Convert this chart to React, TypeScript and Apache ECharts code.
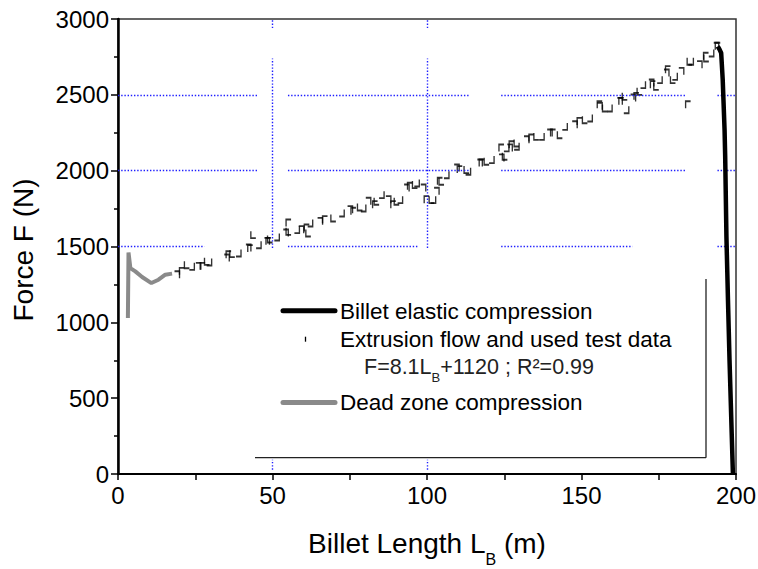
import { useEffect, useRef } from "react";
import * as echarts from "echarts";

// ---- data ----
const deadZoneL = [3.2, 3.4, 4.0, 5.6, 7.8, 10.8, 13.1, 15.3, 17.5];
const deadZoneF = [1029, 1461, 1358, 1336, 1299, 1259, 1281, 1314, 1321];

const elasticL = [194.1, 194.7, 195.2, 195.7, 196.3, 196.5, 196.9, 197.4, 197.9, 199.0];
const elasticF = [2820, 2798, 2776, 2600, 2270, 2094, 1567, 1150, 754, 0];

const flowL = [
  19.1, 20.7, 22.3, 23.9, 25.0, 26.0, 27.4, 28.8, 29.5, 32.5, 35.2, 35.8, 37.0, 39.0, 40.1,
  42.2, 42.8, 43.8, 45.5, 45.9, 48.2, 48.7, 49.2, 51.4, 51.9, 54.3, 55.2, 55.2, 57.9, 58.9,
  59.3, 61.1, 61.6, 62.2, 63.8, 65.4, 67.0, 69.7, 72.4, 72.9, 75.1, 76.2, 78.3, 79.4, 80.5,
  81.0, 83.2, 83.7, 85.3, 87.0, 87.5, 89.1, 90.2, 91.3, 92.9, 93.4, 94.5, 96.1, 96.7, 98.3,
  98.8, 99.9, 101.5, 102.0, 102.6, 103.1, 104.2, 104.7, 106.3, 109.0, 109.6, 110.6, 112.8,
  113.3, 115.0, 117.1, 117.7, 119.3, 120.9, 122.5, 124.1, 124.1, 125.2, 125.7, 126.8, 126.8,
  127.4, 129.0, 129.0, 130.0, 132.2, 133.8, 135.4, 137.1, 138.7, 139.7, 140.8, 143.0, 144.6,
  146.2, 147.8, 149.4, 151.1, 152.7, 154.3, 155.9, 155.9, 157.6, 159.1, 160.8, 162.4, 162.9,
  164.0, 164.5, 165.1, 166.7, 167.8, 168.8, 169.9, 171.0, 172.6, 173.1, 174.2, 175.3, 176.4,
  177.5, 178.0, 179.6, 180.2, 182.3, 182.3, 184.5, 185.0, 185.4, 188.2, 188.2, 190.3, 190.4,
  192.0, 192.5, 193.6, 194.1,
];
const flowF = [
  1314, 1336, 1380, 1369, 1358, 1369, 1369, 1402, 1398, 1424, 1424, 1446, 1453, 1457, 1464,
  1490, 1486, 1578, 1512, 1518, 1534, 1534, 1549, 1563, 1567, 1589, 1655, 1600, 1611, 1633,
  1611, 1622, 1589, 1655, 1633, 1666, 1677, 1688, 1721, 1710, 1743, 1732, 1760, 1754, 1798,
  1798, 1776, 1798, 1842, 1820, 1809, 1776, 1798, 1809, 1864, 1886, 1897, 1908, 1919, 1875,
  1886, 1809, 1809, 1809, 1886, 1864, 1930, 1930, 1973, 2029, 2018, 2007, 2007,
  1996, 1985, 2051, 2051, 2062, 2073, 2073, 2084, 2149, 2095, 2150, 2117, 2150,
  2171, 2182, 2161, 2193, 2204, 2215, 2226, 2226, 2259, 2248, 2248, 2237, 2292,
  2292, 2303, 2325, 2336, 2347, 2402, 2424, 2435, 2413, 2413, 2446, 2457, 2457,
  2490, 2402, 2402, 2479, 2490, 2523, 2567, 2556, 2578, 2567, 2556, 2600, 2600,
  2644, 2666, 2600, 2622, 2633, 2655, 2435, 2721, 2721, 2688, 2699, 2754, 2743,
  2776, 2798, 2820, 2820,
];

// dotted reference grid, broken as in the picture: [value, from, to]
const hGridSegments = [
  [1500, 0, 28], [1500, 55, 97], [1500, 124, 166.5], [1500, 194, 200],
  [2000, 0, 45], [2000, 55, 114], [2000, 124, 184], [2000, 194, 200],
  [2500, 0, 45], [2500, 55, 114], [2500, 124, 184], [2500, 194, 200],
];
const vGridSegments = [
  [50, 2940, 3000], [50, 1490, 2740], [50, 28, 94],
  [100, 2940, 3000], [100, 1490, 2740], [100, 28, 94],
];

const xTicks = { min: 0, max: 200, interval: 50 };
const yTicks = { min: 0, max: 3000, interval: 500 };

const FONT = 'Arial, "Liberation Sans", sans-serif';
const markShapes = [
  "path://M0,0L6,0L6,8",
  "path://M0,8L0,0L6,0",
  "path://M0,0L0,8L6,8",
  "path://M6,0L6,8L0,8",
  "path://M0,0L0,8",
];

export default function App() {
  const ref = useRef<HTMLDivElement>(null);

  useEffect(() => {
    if (!ref.current) return;
    const chart = echarts.init(ref.current, null, { renderer: "svg" });

    const zip = (a: number[], b: number[]) => a.map((v, i) => [v, b[i]]);
    const gridLines = [
      ...hGridSegments.map(([v, a, b]) => [{ coord: [a, v] }, { coord: [b, v] }]),
      ...vGridSegments.map(([v, a, b]) => [{ coord: [v, a] }, { coord: [v, b] }]),
    ];

    const option: any = {
      animation: false,
      backgroundColor: "#fff",
      grid: {
        left: 118,
        right: 22,
        top: 19,
        bottom: 95,
        show: true,
        borderColor: "#333",
        borderWidth: 1.5,
        containLabel: false,
        outerBoundsMode: "none",
      },
      xAxis: {
        type: "value",
        min: xTicks.min,
        max: xTicks.max,
        interval: xTicks.interval,
        axisLine: { show: true, lineStyle: { color: "#000", width: 2 } },
        axisTick: { show: true, inside: false, length: 6, lineStyle: { color: "#000", width: 1.5 } },
        minorTick: { show: true, splitNumber: 2, length: 6, lineStyle: { color: "#000", width: 1.5 } },
        axisLabel: { fontSize: 24, color: "#000", fontFamily: FONT, margin: 9, formatter: (v: number) => String(v) },
        splitLine: { show: false },
      },
      yAxis: {
        type: "value",
        min: yTicks.min,
        max: yTicks.max,
        interval: yTicks.interval,
        axisLine: { show: true, lineStyle: { color: "#000", width: 2.5 } },
        axisTick: { show: true, inside: false, length: 7, lineStyle: { color: "#000", width: 1.5 } },
        minorTick: { show: true, splitNumber: 2, length: 4, lineStyle: { color: "#000", width: 1.5 } },
        axisLabel: { fontSize: 24, color: "#000", fontFamily: FONT, margin: 9, formatter: (v: number) => String(v) },
        splitLine: { show: false },
      },
      series: [
        {
          type: "line",
          name: "grid",
          data: [],
          silent: true,
          z: 1,
          markLine: {
            silent: true,
            symbol: ["none", "none"],
            label: { show: false },
            emphasis: { disabled: true },
            lineStyle: { color: "#1f1fff", width: 1.4, type: [1.4, 1.8] },
            data: gridLines,
          },
        },
        {
          type: "line",
          name: "Dead zone compression",
          data: zip(deadZoneL, deadZoneF),
          symbol: "none",
          lineStyle: { color: "#8a8a8a", width: 4 },
          z: 3,
        },
        {
          type: "scatter",
          name: "Extrusion flow and used test data",
          data: zip(flowL, flowF),
          symbol: (_v: any, p: any) => markShapes[p.dataIndex % markShapes.length],
          symbolSize: [5, 7],
          itemStyle: { color: "rgba(0,0,0,0)", borderColor: "#000", borderWidth: 1.6 },
          z: 4,
        },
        {
          type: "line",
          name: "Billet elastic compression",
          data: zip(elasticL, elasticF),
          symbol: "none",
          lineStyle: { color: "#000", width: 4.5 },
          z: 5,
        },
      ],
      graphic: [
        // axis titles
        {
          type: "text",
          x: 427,
          y: 543,
          style: {
            text: "{a|Billet Length L}{s|B}{a| (m)}",
            align: "center",
            verticalAlign: "middle",
            fill: "#000",
            rich: {
              a: { fontSize: 28, fontFamily: FONT, fill: "#000" },
              s: { fontSize: 16, fontFamily: FONT, fill: "#000", lineHeight: 16, padding: [32, 0, 0, 0] },
            },
          },
        },
        {
          type: "text",
          x: 23.5,
          y: 250,
          rotation: Math.PI / 2,
          style: {
            text: "Force F (N)",
            align: "center",
            verticalAlign: "middle",
            fontSize: 28,
            fontFamily: FONT,
            fill: "#000",
          },
        },
        // legend frame (shadow edges)
        { type: "line", shape: { x1: 255, y1: 457.7, x2: 706, y2: 457.7 }, style: { stroke: "#222", lineWidth: 1.3 } },
        { type: "line", shape: { x1: 706, y1: 279, x2: 706, y2: 457.7 }, style: { stroke: "#222", lineWidth: 1.3 } },
        // legend samples
        { type: "line", shape: { x1: 283, y1: 310.7, x2: 335, y2: 310.7 }, style: { stroke: "#000", lineWidth: 5, lineCap: "round" } },
        { type: "line", shape: { x1: 305.5, y1: 336.7, x2: 305.5, y2: 341.7 }, style: { stroke: "#000", lineWidth: 1.3 } },
        { type: "line", shape: { x1: 283, y1: 402.5, x2: 335, y2: 402.5 }, style: { stroke: "#8a8a8a", lineWidth: 5, lineCap: "round" } },
        // legend texts
        {
          type: "text",
          x: 340,
          y: 311.5,
          style: { text: "Billet elastic compression", fontSize: 22.5, fontFamily: FONT, fill: "#000", align: "left", verticalAlign: "middle" },
        },
        {
          type: "text",
          x: 340,
          y: 339,
          style: { text: "Extrusion flow and used test data", fontSize: 22.5, fontFamily: FONT, fill: "#000", align: "left", verticalAlign: "middle" },
        },
        {
          type: "text",
          x: 364,
          y: 366.5,
          style: {
            text: "{a|F=8.1L}{s|B}{a|+1120 ; R²=0.99}",
            align: "left",
            verticalAlign: "middle",
            fill: "#222",
            rich: {
              a: { fontSize: 21.5, fontFamily: FONT, fill: "#222" },
              s: { fontSize: 13, fontFamily: FONT, fill: "#222", lineHeight: 13, padding: [22, 0, 0, 0] },
            },
          },
        },
        {
          type: "text",
          x: 340,
          y: 402,
          style: { text: "Dead zone compression", fontSize: 22.5, fontFamily: FONT, fill: "#000", align: "left", verticalAlign: "middle" },
        },
      ],
    };

    chart.setOption(option);
    return () => chart.dispose();
  }, []);

  return (
    <div
      ref={ref}
      style={{ position: "fixed", left: 0, top: 0, width: 758, height: 569, background: "#fff" }}
    />
  );
}
